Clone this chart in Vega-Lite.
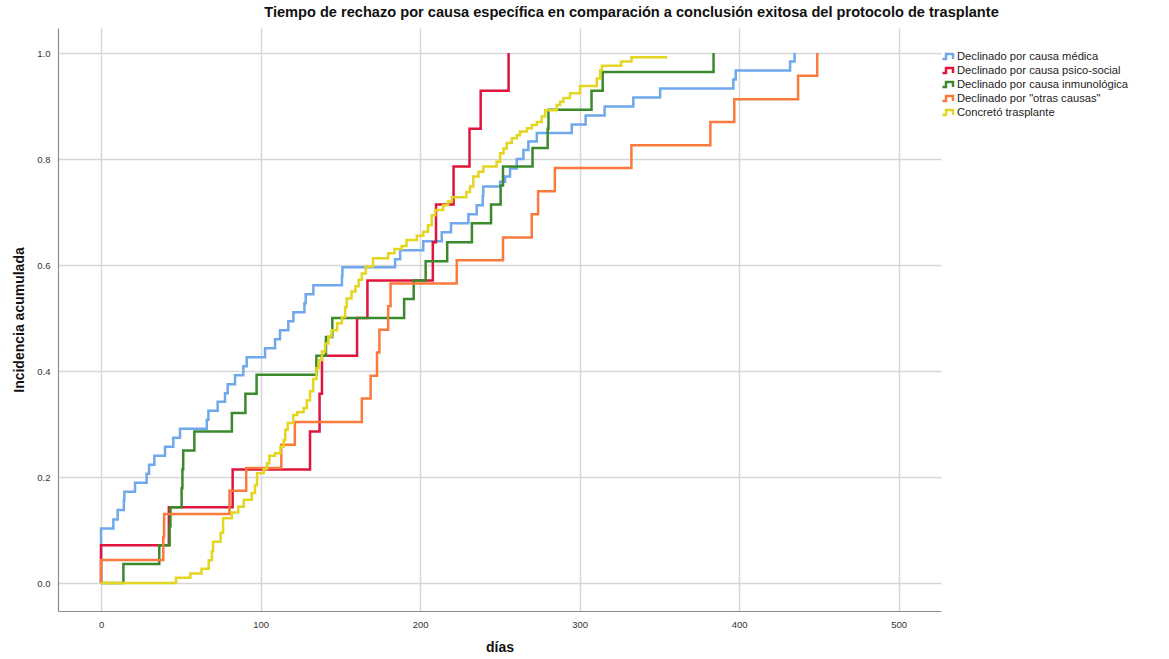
{
  "$schema": "https://vega.github.io/schema/vega-lite/v6.json",
  "width": 883,
  "height": 583,
  "autosize": {"type": "none"},
  "padding": {"left": 58, "top": 28, "right": 228, "bottom": 48},
  "background": "white",
  "config": {"view": {"stroke": null}, "font": "Liberation Sans"},
  "title": {
    "text": "Tiempo de rechazo por causa específica en comparación a conclusión exitosa del protocolo de trasplante",
    "font": "Liberation Sans",
    "fontSize": 14.6,
    "fontWeight": "bold",
    "color": "#111111",
    "anchor": "middle",
    "dx": 132,
    "offset": 8
  },
  "data": {
    "values": [
      {"s": "Declinado por causa médica", "d": 0, "v": 0},
      {"s": "Declinado por causa médica", "d": 0, "v": 0.103},
      {"s": "Declinado por causa médica", "d": 7.7, "v": 0.12},
      {"s": "Declinado por causa médica", "d": 10.4, "v": 0.138},
      {"s": "Declinado por causa médica", "d": 14.3, "v": 0.155},
      {"s": "Declinado por causa médica", "d": 14.6, "v": 0.172},
      {"s": "Declinado por causa médica", "d": 21.3, "v": 0.189},
      {"s": "Declinado por causa médica", "d": 28.6, "v": 0.206},
      {"s": "Declinado por causa médica", "d": 30.1, "v": 0.223},
      {"s": "Declinado por causa médica", "d": 33.4, "v": 0.24},
      {"s": "Declinado por causa médica", "d": 40.1, "v": 0.257},
      {"s": "Declinado por causa médica", "d": 45.3, "v": 0.274},
      {"s": "Declinado por causa médica", "d": 49.5, "v": 0.291},
      {"s": "Declinado por causa médica", "d": 66.3, "v": 0.308},
      {"s": "Declinado por causa médica", "d": 67.3, "v": 0.325},
      {"s": "Declinado por causa médica", "d": 73.1, "v": 0.342},
      {"s": "Declinado por causa médica", "d": 77.7, "v": 0.358},
      {"s": "Declinado por causa médica", "d": 79.4, "v": 0.375},
      {"s": "Declinado por causa médica", "d": 84, "v": 0.392},
      {"s": "Declinado por causa médica", "d": 89.2, "v": 0.409},
      {"s": "Declinado por causa médica", "d": 91.3, "v": 0.426},
      {"s": "Declinado por causa médica", "d": 102.8, "v": 0.443},
      {"s": "Declinado por causa médica", "d": 109.1, "v": 0.46},
      {"s": "Declinado por causa médica", "d": 112.2, "v": 0.477},
      {"s": "Declinado por causa médica", "d": 117.4, "v": 0.494},
      {"s": "Declinado por causa médica", "d": 120.6, "v": 0.511},
      {"s": "Declinado por causa médica", "d": 127.5, "v": 0.528},
      {"s": "Declinado por causa médica", "d": 128.3, "v": 0.545},
      {"s": "Declinado por causa médica", "d": 133.1, "v": 0.562},
      {"s": "Declinado por causa médica", "d": 151, "v": 0.579},
      {"s": "Declinado por causa médica", "d": 151.3, "v": 0.596},
      {"s": "Declinado por causa médica", "d": 184.3, "v": 0.611},
      {"s": "Declinado por causa médica", "d": 187.5, "v": 0.628},
      {"s": "Declinado por causa médica", "d": 202, "v": 0.645},
      {"s": "Declinado por causa médica", "d": 213.6, "v": 0.662},
      {"s": "Declinado por causa médica", "d": 219.4, "v": 0.679},
      {"s": "Declinado por causa médica", "d": 230.3, "v": 0.696},
      {"s": "Declinado por causa médica", "d": 235.5, "v": 0.713},
      {"s": "Declinado por causa médica", "d": 239.3, "v": 0.73},
      {"s": "Declinado por causa médica", "d": 239.6, "v": 0.748},
      {"s": "Declinado por causa médica", "d": 250.2, "v": 0.757},
      {"s": "Declinado por causa médica", "d": 253.3, "v": 0.767},
      {"s": "Declinado por causa médica", "d": 256.4, "v": 0.782},
      {"s": "Declinado por causa médica", "d": 260.6, "v": 0.8},
      {"s": "Declinado por causa médica", "d": 264.8, "v": 0.817},
      {"s": "Declinado por causa médica", "d": 267.9, "v": 0.833},
      {"s": "Declinado por causa médica", "d": 273.2, "v": 0.849},
      {"s": "Declinado por causa médica", "d": 295.1, "v": 0.865},
      {"s": "Declinado por causa médica", "d": 303.8, "v": 0.882},
      {"s": "Declinado por causa médica", "d": 315.7, "v": 0.899},
      {"s": "Declinado por causa médica", "d": 333.7, "v": 0.916},
      {"s": "Declinado por causa médica", "d": 350.5, "v": 0.933},
      {"s": "Declinado por causa médica", "d": 396.4, "v": 0.95},
      {"s": "Declinado por causa médica", "d": 397.9, "v": 0.967},
      {"s": "Declinado por causa médica", "d": 432, "v": 0.984},
      {"s": "Declinado por causa médica", "d": 434.8, "v": 1.0},

      {"s": "Declinado por causa psico-social", "d": 0, "v": 0},
      {"s": "Declinado por causa psico-social", "d": 0, "v": 0.0714},
      {"s": "Declinado por causa psico-social", "d": 42.5, "v": 0.143},
      {"s": "Declinado por causa psico-social", "d": 82.5, "v": 0.214},
      {"s": "Declinado por causa psico-social", "d": 131, "v": 0.286},
      {"s": "Declinado por causa psico-social", "d": 137, "v": 0.357},
      {"s": "Declinado por causa psico-social", "d": 138.5, "v": 0.429},
      {"s": "Declinado por causa psico-social", "d": 160.5, "v": 0.5},
      {"s": "Declinado por causa psico-social", "d": 167, "v": 0.571},
      {"s": "Declinado por causa psico-social", "d": 208, "v": 0.643},
      {"s": "Declinado por causa psico-social", "d": 210, "v": 0.714},
      {"s": "Declinado por causa psico-social", "d": 221, "v": 0.786},
      {"s": "Declinado por causa psico-social", "d": 231, "v": 0.857},
      {"s": "Declinado por causa psico-social", "d": 238, "v": 0.929},
      {"s": "Declinado por causa psico-social", "d": 255.5, "v": 1.0},

      {"s": "Declinado por causa inmunológica", "d": 0, "v": 0},
      {"s": "Declinado por causa inmunológica", "d": 14, "v": 0.0357},
      {"s": "Declinado por causa inmunológica", "d": 36.5, "v": 0.0714},
      {"s": "Declinado por causa inmunológica", "d": 43, "v": 0.107},
      {"s": "Declinado por causa inmunológica", "d": 43.5, "v": 0.143},
      {"s": "Declinado por causa inmunológica", "d": 50.5, "v": 0.179},
      {"s": "Declinado por causa inmunológica", "d": 51, "v": 0.214},
      {"s": "Declinado por causa inmunológica", "d": 51.5, "v": 0.25},
      {"s": "Declinado por causa inmunológica", "d": 58.5, "v": 0.286},
      {"s": "Declinado por causa inmunológica", "d": 82, "v": 0.321},
      {"s": "Declinado por causa inmunológica", "d": 90.5, "v": 0.357},
      {"s": "Declinado por causa inmunológica", "d": 97.5, "v": 0.393},
      {"s": "Declinado por causa inmunológica", "d": 135, "v": 0.429},
      {"s": "Declinado por causa inmunológica", "d": 141, "v": 0.464},
      {"s": "Declinado por causa inmunológica", "d": 145, "v": 0.5},
      {"s": "Declinado por causa inmunológica", "d": 190, "v": 0.536},
      {"s": "Declinado por causa inmunológica", "d": 196, "v": 0.571},
      {"s": "Declinado por causa inmunológica", "d": 203.5, "v": 0.607},
      {"s": "Declinado por causa inmunológica", "d": 217, "v": 0.643},
      {"s": "Declinado por causa inmunológica", "d": 232.5, "v": 0.679},
      {"s": "Declinado por causa inmunológica", "d": 244.5, "v": 0.714},
      {"s": "Declinado por causa inmunológica", "d": 250.5, "v": 0.75},
      {"s": "Declinado por causa inmunológica", "d": 252, "v": 0.786},
      {"s": "Declinado por causa inmunológica", "d": 270.5, "v": 0.821},
      {"s": "Declinado por causa inmunológica", "d": 280, "v": 0.857},
      {"s": "Declinado por causa inmunológica", "d": 280.5, "v": 0.893},
      {"s": "Declinado por causa inmunológica", "d": 307.5, "v": 0.929},
      {"s": "Declinado por causa inmunológica", "d": 314.5, "v": 0.964},
      {"s": "Declinado por causa inmunológica", "d": 384, "v": 1.0},

      {"s": "Declinado por \"otras causas\"", "d": 0, "v": 0},
      {"s": "Declinado por \"otras causas\"", "d": 0, "v": 0.0435},
      {"s": "Declinado por \"otras causas\"", "d": 39, "v": 0.087},
      {"s": "Declinado por \"otras causas\"", "d": 39.5, "v": 0.13},
      {"s": "Declinado por \"otras causas\"", "d": 80.5, "v": 0.174},
      {"s": "Declinado por \"otras causas\"", "d": 91, "v": 0.217},
      {"s": "Declinado por \"otras causas\"", "d": 113, "v": 0.261},
      {"s": "Declinado por \"otras causas\"", "d": 121.5, "v": 0.304},
      {"s": "Declinado por \"otras causas\"", "d": 163.5, "v": 0.348},
      {"s": "Declinado por \"otras causas\"", "d": 169, "v": 0.391},
      {"s": "Declinado por \"otras causas\"", "d": 173, "v": 0.435},
      {"s": "Declinado por \"otras causas\"", "d": 174.5, "v": 0.478},
      {"s": "Declinado por \"otras causas\"", "d": 180, "v": 0.522},
      {"s": "Declinado por \"otras causas\"", "d": 181.5, "v": 0.565},
      {"s": "Declinado por \"otras causas\"", "d": 223, "v": 0.609},
      {"s": "Declinado por \"otras causas\"", "d": 252, "v": 0.652},
      {"s": "Declinado por \"otras causas\"", "d": 270, "v": 0.696},
      {"s": "Declinado por \"otras causas\"", "d": 274, "v": 0.739},
      {"s": "Declinado por \"otras causas\"", "d": 284.5, "v": 0.783},
      {"s": "Declinado por \"otras causas\"", "d": 332.5, "v": 0.826},
      {"s": "Declinado por \"otras causas\"", "d": 382, "v": 0.87},
      {"s": "Declinado por \"otras causas\"", "d": 397, "v": 0.913},
      {"s": "Declinado por \"otras causas\"", "d": 437, "v": 0.957},
      {"s": "Declinado por \"otras causas\"", "d": 449, "v": 1.0},

      {"s": "Concretó trasplante", "d": 0, "v": 0},
      {"s": "Concretó trasplante", "d": 47, "v": 0.01},
      {"s": "Concretó trasplante", "d": 56, "v": 0.018},
      {"s": "Concretó trasplante", "d": 63, "v": 0.027},
      {"s": "Concretó trasplante", "d": 67.5, "v": 0.043},
      {"s": "Concretó trasplante", "d": 69.5, "v": 0.06},
      {"s": "Concretó trasplante", "d": 70.2, "v": 0.078},
      {"s": "Concretó trasplante", "d": 75, "v": 0.095},
      {"s": "Concretó trasplante", "d": 76.5, "v": 0.122},
      {"s": "Concretó trasplante", "d": 82, "v": 0.133},
      {"s": "Concretó trasplante", "d": 86, "v": 0.144},
      {"s": "Concretó trasplante", "d": 89.5, "v": 0.157},
      {"s": "Concretó trasplante", "d": 94.5, "v": 0.17},
      {"s": "Concretó trasplante", "d": 96.5, "v": 0.185},
      {"s": "Concretó trasplante", "d": 97.8, "v": 0.207},
      {"s": "Concretó trasplante", "d": 102, "v": 0.215},
      {"s": "Concretó trasplante", "d": 104, "v": 0.226},
      {"s": "Concretó trasplante", "d": 105.5, "v": 0.24},
      {"s": "Concretó trasplante", "d": 109, "v": 0.245},
      {"s": "Concretó trasplante", "d": 112.5, "v": 0.257},
      {"s": "Concretó trasplante", "d": 114.5, "v": 0.27},
      {"s": "Concretó trasplante", "d": 115.5, "v": 0.289},
      {"s": "Concretó trasplante", "d": 117, "v": 0.302},
      {"s": "Concretó trasplante", "d": 120.5, "v": 0.317},
      {"s": "Concretó trasplante", "d": 123, "v": 0.322},
      {"s": "Concretó trasplante", "d": 127, "v": 0.33},
      {"s": "Concretó trasplante", "d": 129, "v": 0.345},
      {"s": "Concretó trasplante", "d": 131, "v": 0.362},
      {"s": "Concretó trasplante", "d": 133, "v": 0.385},
      {"s": "Concretó trasplante", "d": 135, "v": 0.405},
      {"s": "Concretó trasplante", "d": 136.5, "v": 0.421},
      {"s": "Concretó trasplante", "d": 138.5, "v": 0.437},
      {"s": "Concretó trasplante", "d": 140.5, "v": 0.452},
      {"s": "Concretó trasplante", "d": 142.5, "v": 0.465},
      {"s": "Concretó trasplante", "d": 144.5, "v": 0.477},
      {"s": "Concretó trasplante", "d": 148, "v": 0.49},
      {"s": "Concretó trasplante", "d": 151, "v": 0.502},
      {"s": "Concretó trasplante", "d": 153, "v": 0.521},
      {"s": "Concretó trasplante", "d": 154, "v": 0.537},
      {"s": "Concretó trasplante", "d": 157, "v": 0.55},
      {"s": "Concretó trasplante", "d": 159.5, "v": 0.56},
      {"s": "Concretó trasplante", "d": 161.5, "v": 0.572},
      {"s": "Concretó trasplante", "d": 163.5, "v": 0.584},
      {"s": "Concretó trasplante", "d": 166, "v": 0.597},
      {"s": "Concretó trasplante", "d": 170.5, "v": 0.613},
      {"s": "Concretó trasplante", "d": 180, "v": 0.622},
      {"s": "Concretó trasplante", "d": 184, "v": 0.63},
      {"s": "Concretó trasplante", "d": 188.5, "v": 0.636},
      {"s": "Concretó trasplante", "d": 191.5, "v": 0.647},
      {"s": "Concretó trasplante", "d": 198, "v": 0.655},
      {"s": "Concretó trasplante", "d": 202, "v": 0.663},
      {"s": "Concretó trasplante", "d": 205, "v": 0.675},
      {"s": "Concretó trasplante", "d": 207.3, "v": 0.694},
      {"s": "Concretó trasplante", "d": 209.5, "v": 0.704},
      {"s": "Concretó trasplante", "d": 214.5, "v": 0.713},
      {"s": "Concretó trasplante", "d": 217.5, "v": 0.72},
      {"s": "Concretó trasplante", "d": 220, "v": 0.728},
      {"s": "Concretó trasplante", "d": 229, "v": 0.738},
      {"s": "Concretó trasplante", "d": 231.3, "v": 0.748},
      {"s": "Concretó trasplante", "d": 233.4, "v": 0.767},
      {"s": "Concretó trasplante", "d": 236.6, "v": 0.776},
      {"s": "Concretó trasplante", "d": 239.7, "v": 0.786},
      {"s": "Concretó trasplante", "d": 248, "v": 0.795},
      {"s": "Concretó trasplante", "d": 250.2, "v": 0.811},
      {"s": "Concretó trasplante", "d": 252.3, "v": 0.82},
      {"s": "Concretó trasplante", "d": 254.3, "v": 0.83},
      {"s": "Concretó trasplante", "d": 257.5, "v": 0.839},
      {"s": "Concretó trasplante", "d": 260.6, "v": 0.845},
      {"s": "Concretó trasplante", "d": 262.7, "v": 0.852},
      {"s": "Concretó trasplante", "d": 267, "v": 0.858},
      {"s": "Concretó trasplante", "d": 270, "v": 0.864},
      {"s": "Concretó trasplante", "d": 273.2, "v": 0.87},
      {"s": "Concretó trasplante", "d": 276.3, "v": 0.88},
      {"s": "Concretó trasplante", "d": 278.4, "v": 0.892},
      {"s": "Concretó trasplante", "d": 285.7, "v": 0.902},
      {"s": "Concretó trasplante", "d": 287.8, "v": 0.908},
      {"s": "Concretó trasplante", "d": 289.9, "v": 0.915},
      {"s": "Concretó trasplante", "d": 294, "v": 0.924},
      {"s": "Concretó trasplante", "d": 300.3, "v": 0.938},
      {"s": "Concretó trasplante", "d": 310.8, "v": 0.952},
      {"s": "Concretó trasplante", "d": 312.9, "v": 0.968},
      {"s": "Concretó trasplante", "d": 314, "v": 0.976},
      {"s": "Concretó trasplante", "d": 326, "v": 0.984},
      {"s": "Concretó trasplante", "d": 332.5, "v": 0.992},
      {"s": "Concretó trasplante", "d": 355, "v": 0.992}
    ]
  },
  "encoding": {
    "x": {
      "field": "d",
      "type": "quantitative",
      "scale": {"domain": [-27, 526.6], "nice": false, "zero": false},
      "axis": {
        "title": "días",
        "values": [0, 100, 200, 300, 400, 500],
        "format": "d",
        "grid": true,
        "gridColor": "#d6d6d6",
        "gridWidth": 1.5,
        "ticks": false,
        "domainColor": "#8c8c8c",
        "domainWidth": 1.2,
        "labelFont": "Liberation Sans",
        "labelFontSize": 9.5,
        "labelColor": "#333333",
        "labelPadding": 8,
        "titleFont": "Liberation Sans",
        "titleFontSize": 14,
        "titleFontWeight": "bold",
        "titleColor": "#111111",
        "titlePadding": 12
      }
    },
    "y": {
      "field": "v",
      "type": "quantitative",
      "scale": {"domain": [-0.0528, 1.0472], "nice": false, "zero": false},
      "axis": {
        "title": "Incidencia acumulada",
        "values": [0, 0.2, 0.4, 0.6, 0.8, 1.0],
        "format": ".1f",
        "grid": true,
        "gridColor": "#d6d6d6",
        "gridWidth": 1.5,
        "ticks": false,
        "domainColor": "#8c8c8c",
        "domainWidth": 1.2,
        "labelFont": "Liberation Sans",
        "labelFontSize": 9.5,
        "labelColor": "#333333",
        "labelPadding": 8,
        "titleFont": "Liberation Sans",
        "titleFontSize": 14,
        "titleFontWeight": "bold",
        "titleColor": "#111111",
        "titlePadding": 10
      }
    },
    "color": {
      "field": "s",
      "type": "nominal",
      "scale": {
        "domain": ["Declinado por causa médica", "Declinado por causa psico-social", "Declinado por causa inmunológica", "Declinado por \"otras causas\"", "Concretó trasplante"],
        "range": ["#6fa8ec", "#e0143c", "#3a8a2c", "#fa7a3e", "#e3d520"]
      },
      "legend": {
        "title": null,
        "orient": "none",
        "legendX": 884,
        "legendY": 22,
        "symbolType": "M-1.2,0.5H-0.5V-0.5H0.9V0.5",
        "symbolSize": 100,
        "symbolStrokeWidth": 2.5,
        "symbolFillColor": "transparent",
        "labelFont": "Liberation Sans",
        "labelFontSize": 11.2,
        "labelColor": "#222222",
        "labelOffset": 2,
        "labelLimit": 300,
        "rowPadding": -1
      }
    },
    "order": [{"field": "d", "type": "quantitative"}, {"field": "v", "type": "quantitative"}]
  },
  "layer": [
    {"transform": [{"filter": {"field": "s", "equal": "Declinado por causa médica"}}], "mark": {"type": "line", "interpolate": "step-after", "strokeWidth": 2.5}},
    {"transform": [{"filter": {"field": "s", "equal": "Declinado por causa psico-social"}}], "mark": {"type": "line", "interpolate": "step-after", "strokeWidth": 2.5}},
    {"transform": [{"filter": {"field": "s", "equal": "Declinado por causa inmunológica"}}], "mark": {"type": "line", "interpolate": "step-after", "strokeWidth": 2.5}},
    {"transform": [{"filter": {"field": "s", "equal": "Declinado por \"otras causas\""}}], "mark": {"type": "line", "interpolate": "step-after", "strokeWidth": 2.5}},
    {"transform": [{"filter": {"field": "s", "equal": "Concretó trasplante"}}], "mark": {"type": "line", "interpolate": "step-after", "strokeWidth": 2.5}}
  ]
}
